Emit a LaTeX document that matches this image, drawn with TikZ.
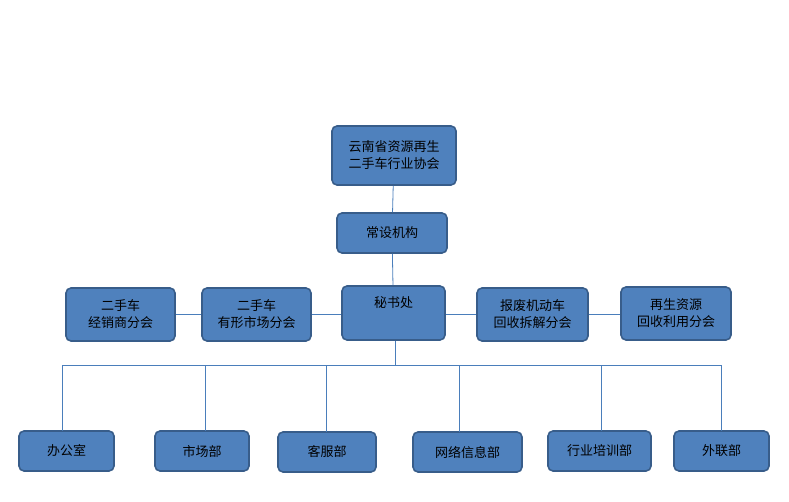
\documentclass[tikz,border=0pt]{standalone}
\usepackage{fontspec}
\setmainfont{Noto Sans CJK SC}
\begin{document}
\begin{tikzpicture}[x=1pt,y=-1pt,
  box/.style={draw=boxborder,line width=1.6pt,fill=boxfill,rounded corners=5pt,align=center,font=\fontsize{13}{17}\selectfont,inner sep=0pt},
  ln/.style={draw=lineblue,line width=0.8pt}]
\definecolor{boxfill}{HTML}{4F81BD}
\definecolor{boxborder}{HTML}{385D8A}
\definecolor{lineblue}{HTML}{4A7EBB}
\useasboundingbox (0,0) rectangle (789,502);
\node[box,minimum width=124pt,minimum height=59pt] (top) at (394,155.5) {云南省资源再生\\二手车行业协会};
\node[box,minimum width=110pt,minimum height=40pt] (cs) at (392,233) {常设机构};
\node[box,minimum width=103pt,minimum height=54pt] (ms) at (393.5,313) {};
\node at (393.5,303) {\fontsize{13}{17}\selectfont 秘书处};
\node[box,minimum width=109pt,minimum height=53pt] (a1) at (120.5,314.5) {二手车\\经销商分会};
\node[box,minimum width=109pt,minimum height=53pt] (a2) at (256.5,314.5) {二手车\\有形市场分会};
\node[box,minimum width=111pt,minimum height=53pt] (a3) at (532.5,314.5) {报废机动车\\回收拆解分会};
\node[box,minimum width=110pt,minimum height=53pt] (a4) at (676,313.5) {再生资源\\回收利用分会};
\node[box,minimum width=95pt,minimum height=40pt] (b1) at (66.5,451) {办公室};
\node[box,minimum width=94pt,minimum height=40pt] (b2) at (202,451) {市场部};
\node[box,minimum width=98pt,minimum height=40pt] (b3) at (327,452) {客服部};
\node[box,minimum width=109pt,minimum height=40pt] (b4) at (467.5,452) {网络信息部};
\node[box,minimum width=103pt,minimum height=40pt] (b5) at (599.5,451) {行业培训部};
\node[box,minimum width=95pt,minimum height=40pt] (b6) at (721.5,451) {外联部};
\coordinate (bus) at (395,365);
\coordinate (bl) at (62,365);
\coordinate (br) at (722,365);
\draw[ln] (top) -- (cs);
\draw[ln] (cs) -- (ms);
\draw[ln] (a1.east) -- (a2.west);
\draw[ln] (a2.east) -- (ms.west|-a2.east);
\draw[ln] (ms.east|-a3.west) -- (a3.west);
\draw[ln] (a3.east) -- (a4.west|-a3.east);
\draw[ln] (ms.south-|bus) -- (bus);
\draw[ln] (bl) -- (br);
\draw[ln] (62,365) -- (62,431);
\draw[ln] (205,365) -- (205,431);
\draw[ln] (326,365) -- (326,432);
\draw[ln] (459,365) -- (459,432);
\draw[ln] (601,365) -- (601,431);
\draw[ln] (721,365) -- (721,431);
\end{tikzpicture}
\end{document}
